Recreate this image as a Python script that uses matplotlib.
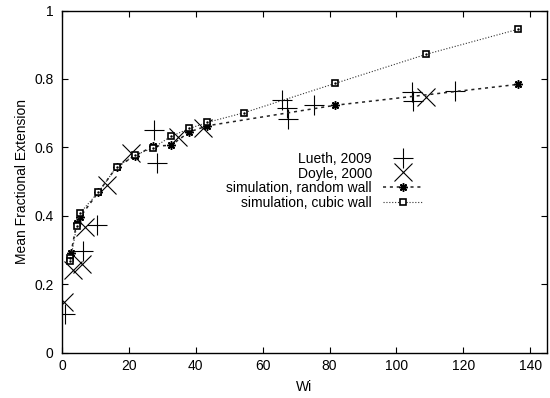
import matplotlib
matplotlib.use("Agg")
import matplotlib.pyplot as plt

plt.rcParams['font.family'] = ['Liberation Sans', 'DejaVu Sans']

# Lueth, 2009
lueth_wi = [0.9, 6.4, 10.4, 27.5, 28.3, 65.7, 67.2, 67.7, 75.2, 104.5, 105.0, 117.6]
lueth_y = [0.113, 0.297, 0.372, 0.650, 0.553, 0.738, 0.714, 0.684, 0.723, 0.762, 0.736, 0.765]

# Doyle, 2000
doyle_wi = [0.6, 3.4, 5.9, 6.9, 13.6, 20.6, 34.8, 42.3, 108.9]
doyle_y = [0.147, 0.240, 0.260, 0.368, 0.489, 0.582, 0.630, 0.655, 0.748]

# simulation, random wall
rand_wi = [2.7, 4.4, 5.4, 10.9, 16.3, 21.8, 27.2, 32.6, 38.1, 43.5, 81.7, 136.3]
rand_y = [0.291, 0.380, 0.396, 0.469, 0.542, 0.575, 0.603, 0.606, 0.645, 0.663, 0.723, 0.784]

# simulation, cubic wall
cubic_wi = [2.3, 2.5, 4.4, 5.4, 10.9, 16.3, 21.8, 27.2, 32.6, 38.1, 43.5, 54.4, 81.7, 108.9, 136.3]
cubic_y = [0.276, 0.268, 0.370, 0.408, 0.469, 0.542, 0.577, 0.598, 0.632, 0.655, 0.673, 0.701, 0.787, 0.872, 0.945]

xticks = [0, 20, 40, 60, 80, 100, 120, 140]
yticks = [0, 0.2, 0.4, 0.6, 0.8, 1.0]
yticklabels = ['0', '0.2', '0.4', '0.6', '0.8', '1']

fig = plt.figure(figsize=(5.5, 3.98), dpi=100)
ax = fig.add_axes([0.1127, 0.1143, 0.9945 - 0.1127, 0.9736 - 0.1143])

ax.plot(lueth_wi, lueth_y, linestyle='none', marker='+', markersize=15,
        markeredgewidth=0.8, color='black', label='Lueth, 2009')
ax.plot(doyle_wi, doyle_y, linestyle='none', marker='x', markersize=13,
        markeredgewidth=0.8, color='black', label='Doyle, 2000')
ax.plot(rand_wi, rand_y, linestyle=(0, (2, 2.5)), linewidth=1.1, color='#222222',
        marker=(8, 2, 0), markersize=6, markeredgewidth=1.1, markeredgecolor='black',
        label='simulation, random wall')
ax.plot(cubic_wi, cubic_y, linestyle=(0, (1, 1.6)), linewidth=0.8, color='#333333',
        marker='s', markersize=5, markerfacecolor='white', markeredgecolor='black',
        markeredgewidth=1.2, label='simulation, cubic wall')
ax.plot(cubic_wi, cubic_y, linestyle='none', marker='.', markersize=1.5, color='black')

ax.set_xlim(0, 145)
ax.set_ylim(0, 1)
ax.set_xticks(xticks)
ax.set_yticks(yticks)
ax.set_yticklabels(yticklabels)
ax.tick_params(direction='in', top=True, right=True, length=4, width=0.8,
               labelsize=10, colors='black', pad=5)
ax.tick_params(axis='y', pad=6)
for s in ax.spines.values():
    s.set_linewidth(1.0)

ax.set_xlabel('Wi', fontsize=10, labelpad=5)
ax.set_ylabel('Mean Fractional Extension', fontsize=10, labelpad=4)

leg = ax.legend(loc='upper right', bbox_to_anchor=(422 / 550, 1 - 152 / 398),
                bbox_transform=fig.transFigure, frameon=False, markerfirst=False,
                fontsize=10, labelspacing=0.05, handlelength=2.8, handletextpad=0.8,
                borderpad=0, borderaxespad=0, handleheight=0.9)

fig.savefig('out.png', dpi=100)
